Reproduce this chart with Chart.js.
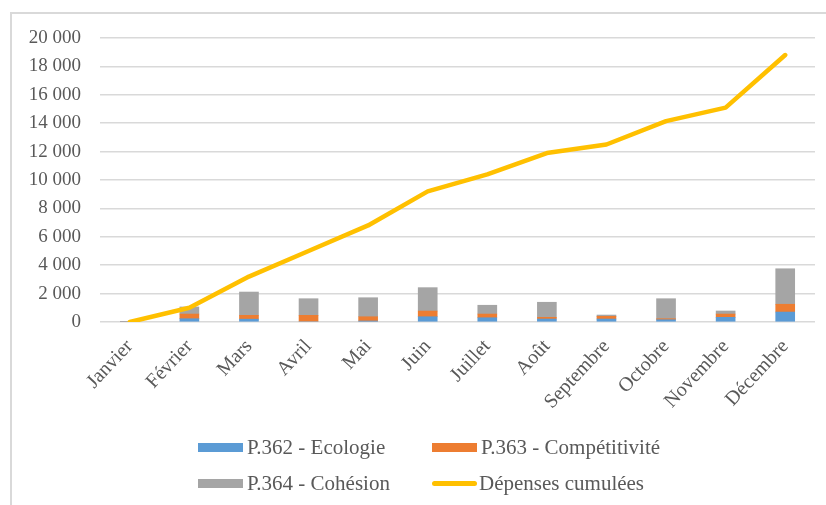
<!DOCTYPE html>
<html>
<head>
<meta charset="utf-8">
<script src="https://cdn.jsdelivr.net/npm/chart.js@4"></script>
<style>
    html, body { margin: 0; padding: 0; background: #fff; }
    #wrap { position: relative; width: 826px; height: 505px; overflow: hidden; }
    #frame { position: absolute; left: 10px; top: 12px; width: 830px; height: 500px;
             border-left: 2px solid #d9d9d9; border-top: 2px solid #d9d9d9; }
    canvas { position: absolute; left: 0; top: 0; }
    .leg { position: absolute; font-family: "Liberation Serif", "Times New Roman", serif;
           font-size: 21px; color: #595959; white-space: nowrap; line-height: 24px; }
    .sw { position: absolute; }
</style>
</head>
<body>
<div id="wrap">
    <div id="frame"></div>
    <canvas id="chart" width="826" height="505"></canvas>
    <div id="legend"></div>
</div>
<script>
document.addEventListener('DOMContentLoaded', function() {
    var months = ['Janvier', 'Février', 'Mars', 'Avril', 'Mai', 'Juin', 'Juillet',
                  'Août', 'Septembre', 'Octobre', 'Novembre', 'Décembre'];

    // Monthly spending by programme
    var ecologie     = [0, 230, 200, 0, 70, 370, 300, 210, 210, 160, 330, 700];
    var competitivite = [0, 330, 270, 470, 300, 400, 260, 120, 190, 70, 230, 550];
    var cohesion     = [0, 500, 1640, 1170, 1340, 1650, 620, 1060, 90, 1410, 215, 2500];

    // Cumulated spending
    var cumul = [0, 1000, 3200, 5000, 6800, 9200, 10400, 11900, 12500, 14150, 15100, 18800];

    var yTicks = { min: 0, max: 20000, step: 2000 };

    var textColor = '#595959';
    var serif = '"Liberation Serif", "Times New Roman", serif';

    function fmt(v) {
        return String(v).replace(/\B(?=(\d{3})+(?!\d))/g, ' ');
    }

    var data = {
        labels: months,
        datasets: [{
            type: 'line',
            label: 'Dépenses cumulées',
            data: cumul,
            borderColor: '#ffc000',
            backgroundColor: '#ffc000',
            borderWidth: 4.5,
            borderCapStyle: 'round',
            borderJoinStyle: 'round',
            pointRadius: 0,
            tension: 0,
            stack: 'cumul',
            order: 0
        }, {
            label: 'P.362 - Ecologie',
            data: ecologie,
            backgroundColor: '#5b9bd5',
            stack: 'prog',
            order: 1
        }, {
            label: 'P.363 - Compétitivité',
            data: competitivite,
            backgroundColor: '#ed7d31',
            stack: 'prog',
            order: 1
        }, {
            label: 'P.364 - Cohésion',
            data: cohesion,
            backgroundColor: '#a5a5a5',
            stack: 'prog',
            order: 1
        }]
    };

    var chart = new Chart(document.getElementById('chart').getContext('2d'), {
        type: 'bar',
        data: data,
        options: {
            responsive: false,
            animation: false,
            barThickness: 19,
            layout: { padding: { left: 0, right: 11, top: 38, bottom: 0 } },
            plugins: {
                legend: { display: false },
                tooltip: { enabled: false }
            },
            scales: {
                x: {
                    stacked: true,
                    grid: { display: false },
                    border: { display: false },
                    ticks: {
                        color: textColor,
                        font: { family: serif, size: 20 },
                        minRotation: 47,
                        maxRotation: 47,
                        padding: 5,
                        autoSkip: false
                    },
                    afterFit: function(scale) { scale.height = 183; }
                },
                y: {
                    stacked: true,
                    min: yTicks.min,
                    max: yTicks.max,
                    grid: { color: '#d9d9d9', lineWidth: 1.5, drawTicks: false },
                    border: { display: false },
                    ticks: {
                        stepSize: yTicks.step,
                        color: textColor,
                        font: { family: serif, size: 19 },
                        padding: 19,
                        callback: function(v) { return fmt(v); }
                    },
                    afterFit: function(scale) { scale.width = 100; }
                }
            }
        }
    });

    // Legend in two rows of two, built from the chart's datasets
    var legend = document.getElementById('legend');
    var order = [1, 2, 3, 0];
    var cols = [198, 432];
    var rows = [447, 483];
    order.forEach(function(idx, i) {
        var ds = chart.data.datasets[idx];
        var x = cols[i % 2];
        var y = rows[Math.floor(i / 2)];
        var sw = document.createElement('div');
        sw.className = 'sw';
        sw.style.left = x + 'px';
        sw.style.width = '45px';
        sw.style.background = ds.type === 'line' ? ds.borderColor : ds.backgroundColor;
        if (ds.type === 'line') {
            sw.style.top = (y - 2) + 'px';
            sw.style.height = '5px';
            sw.style.borderRadius = '3px';
        } else {
            sw.style.top = (y - 4) + 'px';
            sw.style.height = '9px';
        }
        legend.appendChild(sw);
        var t = document.createElement('div');
        t.className = 'leg';
        t.style.left = (x + (ds.type === 'line' ? 47 : 49)) + 'px';
        t.style.top = (y - 12) + 'px';
        t.textContent = ds.label;
        legend.appendChild(t);
    });
});
</script>
</body>
</html>
